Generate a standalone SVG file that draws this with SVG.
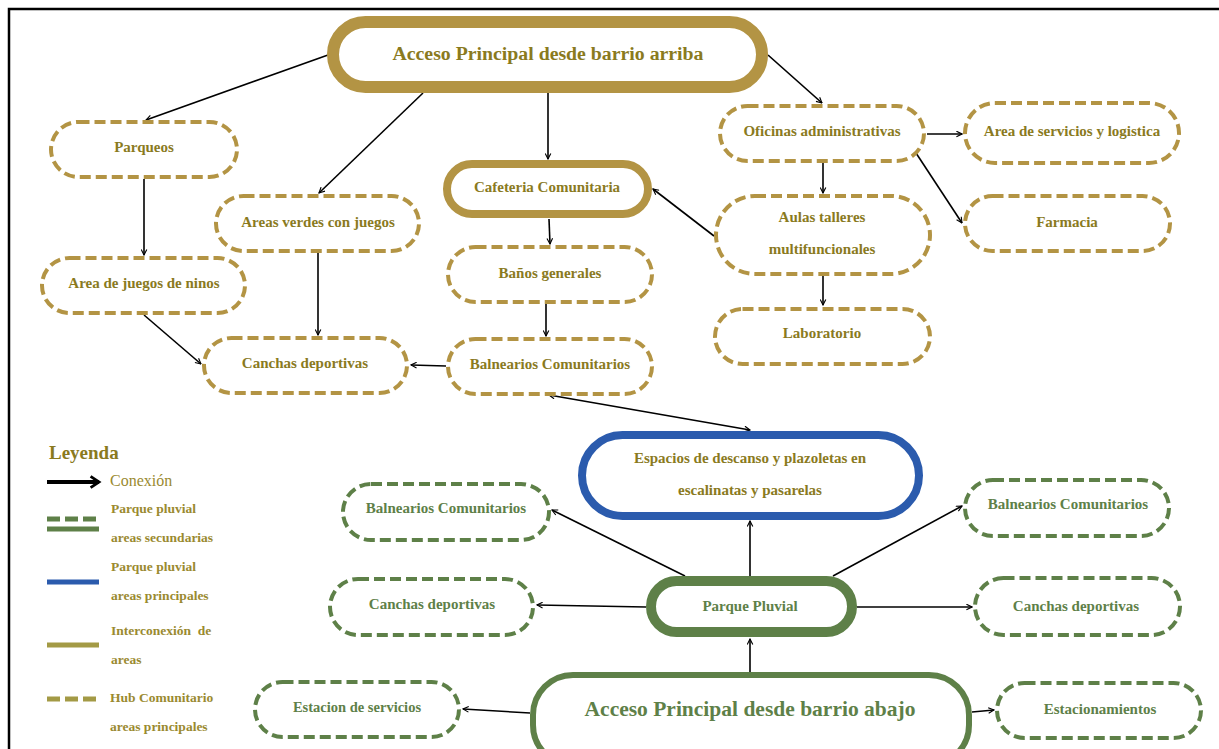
<svg xmlns="http://www.w3.org/2000/svg" width="1219" height="749" viewBox="0 0 1219 749">
<defs>
<marker id="ah" viewBox="0 0 10 10" refX="9" refY="5" markerWidth="7" markerHeight="7" orient="auto-start-reverse" markerUnits="userSpaceOnUse">
<path d="M1,1 L9,5 L1,9" fill="none" stroke="#000" stroke-width="1.6"/>
</marker>
<marker id="ahL" viewBox="0 0 10 10" refX="8" refY="5" markerWidth="14" markerHeight="14" orient="auto" markerUnits="userSpaceOnUse">
<path d="M2,1 L8,5 L2,9" fill="none" stroke="#000" stroke-width="2"/>
</marker>
</defs>
<style>
.gd{fill:#fff;stroke:#B39444;stroke-width:4;stroke-dasharray:11 5}
.gr{fill:#fff;stroke:#5E8048;stroke-width:4;stroke-dasharray:11 5}
.t{font-family:"Liberation Serif","DejaVu Serif",serif;font-weight:bold;text-anchor:middle;dominant-baseline:central;fill:#8A7A1E;font-size:15px}
.tg{fill:#5E8048}
.c line,.c path{stroke:#000;stroke-width:1.6;fill:none;marker-end:url(#ah)}
.lt{font-family:"Liberation Serif","DejaVu Serif",serif;font-weight:bold;fill:#9A8A30;font-size:13.5px;dominant-baseline:central}
</style>
<rect width="1219" height="749" fill="#fff"/>
<path d="M9,749 V9 H1219" fill="none" stroke="#000" stroke-width="2.5"/>

<g class="c">
<line x1="328" y1="55" x2="146" y2="120"/>
<line x1="423" y1="93" x2="319" y2="193"/>
<line x1="548" y1="93" x2="548" y2="159"/>
<line x1="768" y1="55" x2="822" y2="103"/>
<line x1="144" y1="179" x2="144" y2="255"/>
<line x1="144" y1="315" x2="201" y2="364"/>
<line x1="318" y1="253" x2="318" y2="335"/>
<line x1="549" y1="219" x2="550" y2="244"/>
<line x1="546" y1="304" x2="546" y2="336"/>
<line x1="446" y1="366" x2="411" y2="365"/>
<line x1="714" y1="236" x2="653" y2="189"/>
<line x1="927" y1="134" x2="962" y2="134"/>
<line x1="916" y1="153" x2="962" y2="223"/>
<line x1="823" y1="163" x2="823" y2="193"/>
<line x1="823" y1="276" x2="823" y2="305"/>
<line x1="549" y1="395" x2="750" y2="430" style="marker-start:url(#ah)"/>
<line x1="750" y1="576" x2="750" y2="521"/>
<line x1="685" y1="576" x2="552" y2="510"/>
<line x1="833" y1="576" x2="962" y2="506"/>
<line x1="646" y1="607" x2="537" y2="605"/>
<line x1="857" y1="607" x2="972" y2="607"/>
<line x1="750" y1="672" x2="750" y2="639"/>
<line x1="530" y1="713" x2="463" y2="709"/>
<line x1="972" y1="712" x2="994" y2="710"/>
</g>

<g id="acceso-arriba"><rect x="333" y="22" width="429" height="65" rx="32.5" fill="#fff" stroke="#B39444" stroke-width="12"/><text class="t" x="548" y="53" style="font-size:19.8px">Acceso Principal desde barrio arriba</text></g>
<g id="parqueos"><rect class="gd" x="51" y="122" width="186" height="55" rx="27.5"/><text class="t" x="144" y="147">Parqueos</text></g>
<g id="areas-verdes"><rect class="gd" x="216" y="196" width="203" height="55" rx="27.5"/><text class="t" x="318" y="222">Areas verdes con juegos</text></g>
<g id="juegos-ninos"><rect class="gd" x="42" y="258" width="203" height="55" rx="27.5"/><text class="t" x="144" y="283">Area de juegos de ninos</text></g>
<g id="canchas-top"><rect class="gd" x="204" y="338" width="203" height="55" rx="27.5"/><text class="t" x="305" y="363">Canchas deportivas</text></g>
<g id="cafeteria"><rect x="447" y="164" width="201" height="50" rx="25" fill="#fff" stroke="#B39444" stroke-width="8"/><text class="t" x="547" y="187">Cafeteria Comunitaria</text></g>
<g id="banos"><rect class="gd" x="448" y="247" width="204" height="55" rx="27.5"/><text class="t" x="550" y="273">Baños generales</text></g>
<g id="balnearios-top"><rect class="gd" x="448" y="339" width="204" height="55" rx="27.5"/><text class="t" x="550" y="364">Balnearios Comunitarios</text></g>
<g id="oficinas"><rect class="gd" x="720" y="106" width="204" height="55" rx="27.5"/><text class="t" x="822" y="131">Oficinas administrativas</text></g>
<g id="servicios"><rect class="gd" x="965" y="103" width="214" height="60" rx="30"/><text class="t" x="1072" y="131">Area de servicios y logistica</text></g>
<g id="farmacia"><rect class="gd" x="965" y="196" width="205" height="55" rx="27.5"/><text class="t" x="1067" y="222">Farmacia</text></g>
<g id="aulas"><rect class="gd" x="716" y="196" width="214" height="78" rx="39"/><text class="t" x="822" y="217">Aulas talleres</text><text class="t" x="822" y="249">multifuncionales</text></g>
<g id="laboratorio"><rect class="gd" x="715" y="309" width="215" height="55" rx="27.5"/><text class="t" x="822" y="333">Laboratorio</text></g>
<g id="espacios"><rect x="582" y="435" width="337" height="81" rx="40.5" fill="#fff" stroke="#2B5BAD" stroke-width="8"/><text class="t" x="750" y="458">Espacios de descanso y plazoletas en</text><text class="t" x="750" y="490">escalinatas y pasarelas</text></g>
<g id="balnearios-izq"><rect class="gr" x="343" y="484" width="206" height="56" rx="28"/><text class="t tg" x="446" y="508">Balnearios Comunitarios</text></g>
<g id="canchas-izq"><rect class="gr" x="330" y="579" width="203" height="56" rx="28"/><text class="t tg" x="432" y="604">Canchas deportivas</text></g>
<g id="parque-pluvial"><rect x="651" y="581" width="201" height="51" rx="25.5" fill="#fff" stroke="#5E8048" stroke-width="10"/><text class="t tg" x="750" y="606">Parque Pluvial</text></g>
<g id="balnearios-der"><rect class="gr" x="965" y="480" width="204" height="56" rx="28"/><text class="t tg" x="1068" y="504">Balnearios Comunitarios</text></g>
<g id="canchas-der"><rect class="gr" x="975" y="578" width="205" height="57" rx="28.5"/><text class="t tg" x="1076" y="606">Canchas deportivas</text></g>
<g id="acceso-abajo"><rect x="533" y="675" width="436" height="90" rx="40" fill="#fff" stroke="#5E8048" stroke-width="6"/><text class="t tg" x="750" y="709" style="font-size:21.5px">Acceso Principal desde barrio abajo</text></g>
<g id="estacion"><rect class="gr" x="255" y="682" width="204" height="55" rx="27.5"/><text class="t tg" x="357" y="707" style="font-size:14.5px">Estacion de servicios</text></g>
<g id="estacionamientos"><rect class="gr" x="997" y="683" width="204" height="55" rx="27.5"/><text class="t tg" x="1100" y="709">Estacionamientos</text></g>

<g id="leyenda">
<text x="49" y="452" class="lt" style="font-size:19px;fill:#8A7A1E">Leyenda</text>
<line x1="47" y1="482" x2="99" y2="482" stroke="#000" stroke-width="4" marker-end="url(#ahL)"/>
<text x="110" y="480" class="lt" style="font-size:16px;font-weight:normal">Conexión</text>
<line x1="47" y1="519" x2="99" y2="519" stroke="#5E8048" stroke-width="5" stroke-dasharray="13 5"/>
<line x1="47" y1="529" x2="99" y2="529" stroke="#5E8048" stroke-width="5"/>
<text x="111" y="508" class="lt">Parque pluvial</text>
<text x="111" y="537" class="lt">areas secundarias</text>
<line x1="47" y1="582" x2="99" y2="582" stroke="#2B5BAD" stroke-width="5"/>
<text x="111" y="566" class="lt">Parque pluvial</text>
<text x="111" y="595" class="lt">areas principales</text>
<line x1="47" y1="645" x2="99" y2="645" stroke="#A39A45" stroke-width="5"/>
<text x="111" y="630" class="lt" xml:space="preserve">Interconexión  de</text>
<text x="111" y="659" class="lt">areas</text>
<line x1="47" y1="699" x2="99" y2="699" stroke="#A39A45" stroke-width="5" stroke-dasharray="13 5"/>
<text x="110" y="697" class="lt">Hub Comunitario</text>
<text x="110" y="726" class="lt">areas principales</text>
</g>
</svg>
